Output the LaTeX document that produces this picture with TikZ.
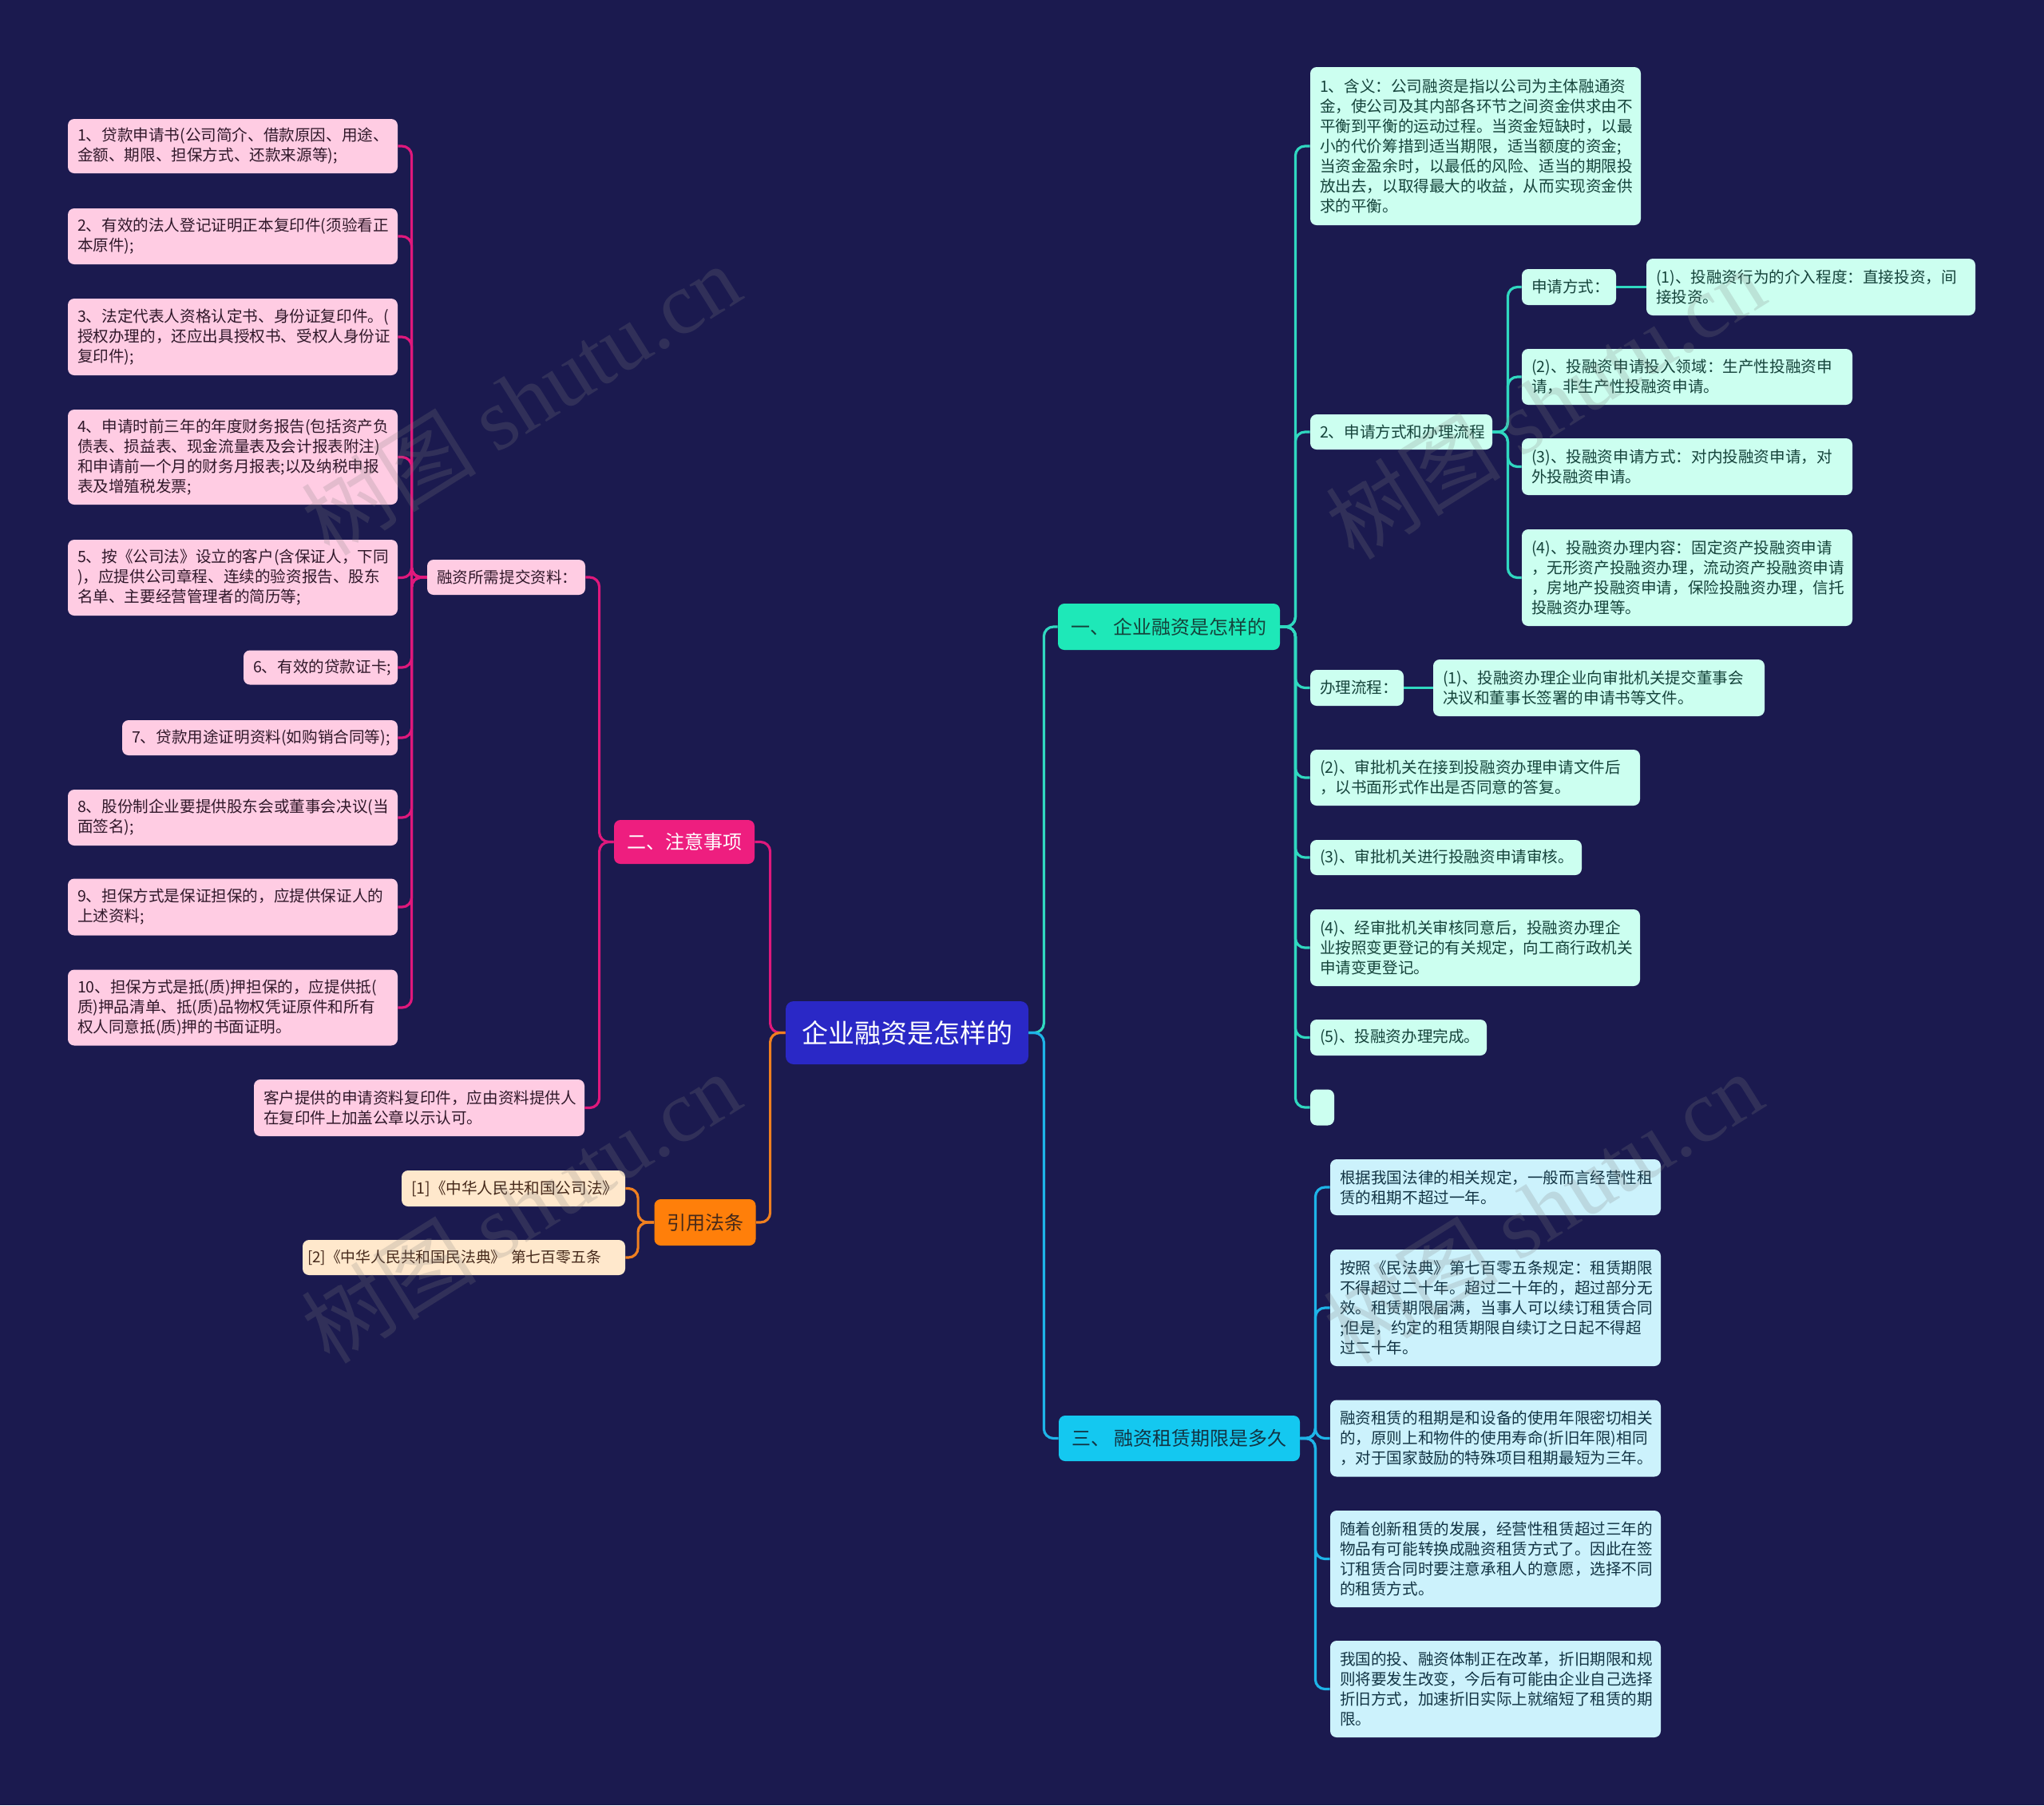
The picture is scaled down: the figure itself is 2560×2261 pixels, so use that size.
\documentclass[tikz,border=0pt]{standalone}
\usepackage{fontspec}
\setmainfont{Noto Sans CJK SC}
\newfontfamily\wmlat{Liberation Serif}
\definecolor{bg}{HTML}{1B1A4F}
\definecolor{rootfill}{HTML}{2A28C6}
\definecolor{tealfill}{HTML}{1EE8B8}
\definecolor{cyanfill}{HTML}{14C8F0}
\definecolor{magfill}{HTML}{EE1E7F}
\definecolor{orgfill}{HTML}{FF7F0A}
\definecolor{pinkleaf}{HTML}{FFCCE3}
\definecolor{peachleaf}{HTML}{FFE8CC}
\definecolor{mintleaf}{HTML}{CCFFF0}
\definecolor{cyanleaf}{HTML}{CCF2FC}
\definecolor{pinktext}{HTML}{30182A}
\definecolor{minttext}{HTML}{15433B}
\definecolor{cyantext}{HTML}{123444}
\definecolor{peachtext}{HTML}{45291A}
\definecolor{cMag}{HTML}{E0187C}
\definecolor{cOrg}{HTML}{F08020}
\definecolor{cTeal}{HTML}{30D8C0}
\definecolor{cCyan}{HTML}{1EB4E8}
\newcommand\leaffont{\fontsize{9.8pt}{12.5pt}\selectfont}
\newcommand\labfont{\fontsize{12pt}{14pt}\selectfont}
\newcommand\rootfont{\fontsize{16.5pt}{19pt}\selectfont}
\tikzset{
  lw/.code={\pgfmathsetmacro\lwA{#1*0.5}\pgfmathsetmacro\lwB{(#1-24)*0.5}\edef\lwC{\noexpand\tikzset{minimum width=\lwA pt,text width=\lwB pt}}\lwC},
  bw/.code={\pgfmathsetmacro\lwA{#1*0.5}\edef\lwC{\noexpand\tikzset{minimum width=\lwA pt}}\lwC},
  lh/.code={\pgfmathsetmacro\lhA{#1*0.5}\edef\lhC{\noexpand\tikzset{minimum height=\lhA pt}}\lhC},
  leafbox/.style={rounded corners=4pt, inner sep=0pt, align=left, font=\leaffont},
  pinkbox/.style={leafbox, fill=pinkleaf, text=pinktext},
  peachbox/.style={leafbox, fill=peachleaf, text=peachtext},
  mintbox/.style={leafbox, fill=mintleaf, text=minttext},
  cyanbox/.style={leafbox, fill=cyanleaf, text=cyantext},
  labbox/.style={rounded corners=4pt, inner sep=0pt, align=center, font=\labfont},
  conn/.style={line width=1.6pt, rounded corners=6pt},
  cmag/.style={conn, draw=cMag},
  corg/.style={conn, draw=cOrg},
  cteal/.style={conn, draw=cTeal},
  ccyan/.style={conn, draw=cCyan},
  wm/.style={text=gray, text opacity=0.22, font=\fontsize{55pt}{55pt}\selectfont, rotate=32, inner sep=0pt},
}
\begin{document}
\begin{tikzpicture}[x=0.5pt,y=-0.5pt]
\useasboundingbox (0,0) rectangle (2560,2261);
\fill[bg] (0,0) rectangle (2560,2261);

% root and main branches
\node[rounded corners=5pt, inner sep=0pt, fill=rootfill, text=white, font=\rootfont, bw=304, lh=79] (root) at (1136,1293.5) {企业融资是怎样的};
\node[labbox, fill=tealfill, text=minttext, bw=278, lh=58] (b1) at (1464,785) {一、 企业融资是怎样的};
\node[labbox, fill=cyanfill, text=cyantext, bw=302, lh=57] (b3) at (1477,1801.5) {三、 融资租赁期限是多久};
\node[labbox, fill=magfill, text=white, bw=176, lh=55] (b2) at (857,1054.5) {二、注意事项};
\node[labbox, fill=orgfill, text=peachtext, bw=127, lh=58] (b4) at (883,1531) {引用法条};

% left side
\node[pinkbox, lw=198, lh=44] (need) at (634,723) {融资所需提交资料：};
\node[pinkbox, lw=413, lh=68] (L1) at (291.5,183) {1、贷款申请书(公司简介、借款原因、用途、\\金额、期限、担保方式、还款来源等);};
\node[pinkbox, lw=413, lh=70] (L2) at (291.5,296) {2、有效的法人登记证明正本复印件(须验看正\\本原件);};
\node[pinkbox, lw=413, lh=96] (L3) at (291.5,422) {3、法定代表人资格认定书、身份证复印件。(\\授权办理的，还应出具授权书、受权人身份证\\复印件);};
\node[pinkbox, lw=413, lh=119] (L4) at (291.5,572.5) {4、申请时前三年的年度财务报告(包括资产负\\债表、损益表、现金流量表及会计报表附注)\\和申请前一个月的财务月报表;以及纳税申报\\表及增殖税发票;};
\node[pinkbox, lw=413, lh=95] (L5) at (291.5,723.5) {5、按《公司法》设立的客户(含保证人，下同\\)，应提供公司章程、连续的验资报告、股东\\名单、主要经营管理者的简历等;};
\node[pinkbox, lw=193, lh=43] (L6) at (401.5,836) {6、有效的贷款证卡;};
\node[pinkbox, lw=345, lh=44] (L7) at (325.5,924) {7、贷款用途证明资料(如购销合同等);};
\node[pinkbox, lw=413, lh=70] (L8) at (291.5,1024) {8、股份制企业要提供股东会或董事会决议(当\\面签名);};
\node[pinkbox, lw=413, lh=71] (L9) at (291.5,1136) {9、担保方式是保证担保的，应提供保证人的\\上述资料;};
\node[pinkbox, lw=413, lh=95] (L10) at (291.5,1262) {10、担保方式是抵(质)押担保的，应提供抵(\\质)押品清单、抵(质)品物权凭证原件和所有\\权人同意抵(质)押的书面证明。};
\node[pinkbox, lw=414, lh=71] (kehu) at (525,1387.5) {客户提供的申请资料复印件，应由资料提供人\\在复印件上加盖公章以示认可。};
\node[peachbox, lw=280, lh=45] (r1) at (643,1488.5) {[1]《中华人民共和国公司法》};
\node[peachbox, lw=404, lh=44, text width=196pt, font=\fontsize{9.4pt}{12.5pt}\selectfont] (r2) at (581,1575) {\mbox{[2]《中华人民共和国民法典》 第七百零五条}};

% right side, branch 1
\node[mintbox, lw=414, lh=198] (A1) at (1848,183) {1、含义：公司融资是指以公司为主体融通资\\金，使公司及其内部各环节之间资金供求由不\\平衡到平衡的运动过程。当资金短缺时，以最\\小的代价筹措到适当期限，适当额度的资金;\\当资金盈余时，以最低的风险、适当的期限投\\放出去，以取得最大的收益，从而实现资金供\\求的平衡。};
\node[mintbox, lw=228, lh=44] (A2) at (1755,541) {2、申请方式和办理流程};
\node[mintbox, lw=118, lh=45] (A2a) at (1965,359.5) {申请方式：};
\node[mintbox, lw=412, lh=71] (A2a1) at (2268,359.5) {(1)、投融资行为的介入程度：直接投资，间\\接投资。};
\node[mintbox, lw=414, lh=70] (A2b) at (2113,472) {(2)、投融资申请投入领域：生产性投融资申\\请，非生产性投融资申请。};
\node[mintbox, lw=414, lh=71] (A2c) at (2113,584.5) {(3)、投融资申请方式：对内投融资申请，对\\外投融资申请。};
\node[mintbox, lw=414, lh=121] (A2d) at (2113,723.5) {(4)、投融资办理内容：固定资产投融资申请\\，无形资产投融资办理，流动资产投融资申请\\，房地产投融资申请，保险投融资办理，信托\\投融资办理等。};
\node[mintbox, lw=117, lh=45] (B) at (1699.5,861.5) {办理流程：};
\node[mintbox, lw=415, lh=71] (B1) at (2002.5,861.5) {(1)、投融资办理企业向审批机关提交董事会\\决议和董事长签署的申请书等文件。};
\node[mintbox, lw=413, lh=70] (C2) at (1847.5,974) {(2)、审批机关在接到投融资办理申请文件后\\，以书面形式作出是否同意的答复。};
\node[mintbox, lw=340, lh=44] (C3) at (1811,1074) {(3)、审批机关进行投融资申请审核。};
\node[mintbox, lw=413, lh=96] (C4) at (1847.5,1187) {(4)、经审批机关审核同意后，投融资办理企\\业按照变更登记的有关规定，向工商行政机关\\申请变更登记。};
\node[mintbox, lw=221, lh=45] (C5) at (1751.5,1299.5) {(5)、投融资办理完成。};
\node[mintbox, lw=30, lh=45] (C6) at (1656,1387) {};

% right side, branch 3
\node[cyanbox, lw=414, lh=70] (D1) at (1873,1487) {根据我国法律的相关规定，一般而言经营性租\\赁的租期不超过一年。};
\node[cyanbox, lw=414, lh=146] (D2) at (1873,1638) {按照《民法典》第七百零五条规定：租赁期限\\不得超过二十年。超过二十年的，超过部分无\\效。租赁期限届满，当事人可以续订租赁合同\\;但是，约定的租赁期限自续订之日起不得超\\过二十年。};
\node[cyanbox, lw=414, lh=96] (D3) at (1873,1801.5) {融资租赁的租期是和设备的使用年限密切相关\\的，原则上和物件的使用寿命(折旧年限)相同\\，对于国家鼓励的特殊项目租期最短为三年。};
\node[cyanbox, lw=414, lh=121] (D4) at (1873,1952.5) {随着创新租赁的发展，经营性租赁超过三年的\\物品有可能转换成融资租赁方式了。因此在签\\订租赁合同时要注意承租人的意愿，选择不同\\的租赁方式。};
\node[cyanbox, lw=414, lh=121] (D5) at (1873,2115.5) {我国的投、融资体制正在改革，折旧期限和规\\则将要发生改变，今后有可能由企业自己选择\\折旧方式，加速折旧实际上就缩短了租赁的期\\限。};

% connectors: root
\draw[cteal] (root.east) -- ++(19,0) |- (b1.west);
\draw[ccyan] (root.east) -- ++(19,0) |- (b3.west);
\draw[cmag] (root.west) -- ++(-19,0) |- (b2.east);
\draw[corg] (root.west) -- ++(-19,0) |- (b4.east);

% branch 2
\draw[cmag] (b2.west) -- ++(-18,0) |- (need.east);
\draw[cmag] (b2.west) -- ++(-18,0) |- (kehu.east);
\foreach \n in {L1,L2,L3,L4,L5,L6,L7,L8,L9,L10}
  \draw[cmag] (need.west) -- ++(-19,0) |- (\n.east);

% citations
\draw[corg] (b4.west) -- ++(-20,0) |- (r1.east);
\draw[corg] (b4.west) -- ++(-20,0) |- (r2.east);

% branch 1
\foreach \n in {A1,A2,B,C2,C3,C4,C5,C6}
  \draw[cteal] (b1.east) -- ++(19,0) |- (\n.west);
\foreach \n in {A2a,A2b,A2c,A2d}
  \draw[cteal] (A2.east) -- ++(19,0) |- (\n.west);
\draw[cteal] (A2a.east) -- (A2a1.west);
\draw[cteal] (B.east) -- (B1.west);

% branch 3
\foreach \n in {D1,D2,D3,D4,D5}
  \draw[ccyan] (b3.east) -- ++(19,0) |- (\n.west);

% watermarks
\node[wm] (w1) at (652,500) {树图 {\wmlat shutu.cn}};
\node[wm] (w2) at (1935,505) {树图 {\wmlat shutu.cn}};
\node[wm] (w3) at (652,1512) {树图 {\wmlat shutu.cn}};
\node[wm] (w4) at (1932,1512) {树图 {\wmlat shutu.cn}};
\end{tikzpicture}
\end{document}
